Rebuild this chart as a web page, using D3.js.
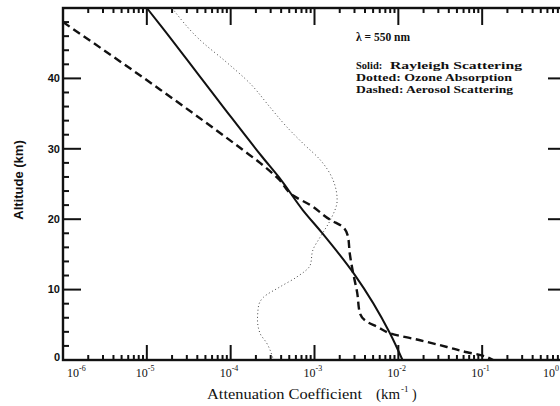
<!DOCTYPE html>
<html>
<head>
<meta charset="utf-8">
<script src="https://cdn.jsdelivr.net/npm/d3@7"></script>
<style>
  html, body { margin: 0; padding: 0; background: #fff; }
  svg { display: block; }
</style>
</head>
<body>
<svg id="chart" width="560" height="406"></svg>
<script>
// Extinction profiles at 550 nm: [altitude km, log10 of coefficient km^-1]
const rayleigh = [
  [50, -5.00], [47.3, -4.82], [40, -4.35], [35.5, -4.06], [28.8, -3.62],
  [25.6, -3.40], [21.3, -3.14], [18.2, -2.92], [12.1, -2.52], [3.8, -2.10], [0, -1.95]
];
const ozone = [
  [50, -4.70], [45.5, -4.37], [42.2, -4.04], [39.3, -3.77], [35.9, -3.53],
  [33.1, -3.33], [30.8, -3.14], [28.4, -2.93], [25.6, -2.78], [22.7, -2.73],
  [19.9, -2.81], [17.5, -2.93], [15.6, -3.02], [13.5, -3.05], [11.8, -3.21],
  [10.4, -3.41], [8.9, -3.61], [7.5, -3.67], [5.7, -3.68], [3.8, -3.65],
  [2.4, -3.57], [0, -3.49]
];
const aerosol = [
  [48.0, -6.0], [38.4, -4.84], [29.8, -3.85], [28.0, -3.65], [25.6, -3.42],
  [23.4, -3.26], [22.0, -3.05], [19.9, -2.81], [18.9, -2.66], [17.5, -2.60],
  [15.2, -2.58], [12.4, -2.54], [9.5, -2.49], [6.7, -2.46], [5.4, -2.37],
  [4.7, -2.25], [3.8, -2.10], [2.8, -1.74], [1.85, -1.42], [1.1, -1.18],
  [0.7, -1.02], [0, -0.87]
];

const decades = [-6, -5, -4, -3, -2, -1, 0];
const altTicks = [0, 10, 20, 30, 40];
const legendKeys = ["Solid:", "Dotted:", "Dashed:"];
const legendNames = ["Rayleigh Scattering", "Ozone Absorption", "Aerosol Scattering"];
const wavelengthLabel = "\u03bb = 550 nm";
const xTitle = "Attenuation Coefficient";
const xUnit = "(km";
const yTitle = "Altitude (km)";

const svg = d3.select("#chart");
const plotLeft = 63, plotRight = 566, plotTop = 8, plotBottom = 360;

const x = d3.scaleLog().domain([1e-6, 1]).range([plotLeft, plotRight]);
const y = d3.scaleLinear().domain([0, 50]).range([plotBottom, plotTop]);

const majorX = decades.map(d => Math.pow(10, d));
const minorX = [];
decades.slice(0, -1).forEach(d => {
  for (let k = 2; k <= 9; k++) minorX.push(k * Math.pow(10, d));
});
const minorY = d3.range(0, 51, 2).filter(v => v % 10 !== 0);
const majorY = d3.range(0, 51, 10);

// frame
svg.append("rect")
  .attr("x", plotLeft).attr("y", plotTop)
  .attr("width", plotRight - plotLeft).attr("height", plotBottom - plotTop)
  .attr("fill", "none").attr("stroke", "#111").attr("stroke-width", 2.4);

// inward ticks on all four sides
function drawTicks(cls, vals, x1, x2, y1, y2) {
  svg.append("g").attr("class", cls).selectAll("line").data(vals).join("line")
    .attr("x1", x1).attr("x2", x2).attr("y1", y1).attr("y2", y2)
    .attr("stroke", "#111").attr("stroke-width", 2);
}
drawTicks("xminor-b", minorX, d => x(d), d => x(d), plotBottom, plotBottom - 5);
drawTicks("xminor-t", minorX, d => x(d), d => x(d), plotTop, plotTop + 5);
drawTicks("xmajor-b", majorX, d => x(d), d => x(d), plotBottom, plotBottom - 15);
drawTicks("xmajor-t", majorX, d => x(d), d => x(d), plotTop, plotTop + 17);
drawTicks("yminor-l", minorY, plotLeft, plotLeft + 6, d => y(d), d => y(d));
drawTicks("yminor-r", minorY, plotRight, plotRight - 6, d => y(d), d => y(d));
drawTicks("ymajor-l", majorY, plotLeft, plotLeft + 18, d => y(d), d => y(d));
drawTicks("ymajor-r", majorY, plotRight, plotRight - 18, d => y(d), d => y(d));

// x tick labels as powers of ten
const xl = svg.append("g").attr("font-family", "Liberation Serif, serif").attr("fill", "#111");
decades.forEach(d => {
  const t = xl.append("text")
    .attr("x", Math.min(Math.max(x(Math.pow(10, d)) - 11, 67), 543))
    .attr("y", 377)
    .attr("font-size", 12);
  t.append("tspan").text("10");
  t.append("tspan").attr("font-size", 8).attr("dy", -6).text(d === 0 ? "0" : "-" + Math.abs(d));
});

// y tick labels
svg.append("g").selectAll("text").data(altTicks).join("text")
  .attr("x", 60).attr("y", d => y(d) - (d === 0 ? 3 : 0))
  .attr("dy", "0.35em")
  .attr("text-anchor", "end")
  .attr("font-family", "Liberation Sans, sans-serif")
  .attr("font-weight", "bold")
  .attr("font-size", 11)
  .attr("fill", "#111")
  .text(d => d);

// profiles
const line = d3.line()
  .x(d => x(Math.pow(10, d[1])))
  .y(d => y(d[0]))
  .curve(d3.curveMonotoneY);

svg.append("path").datum(ozone).attr("d", line)
  .attr("fill", "none").attr("stroke", "#444").attr("stroke-width", 1)
  .attr("stroke-dasharray", "1,2.6");
svg.append("path").datum(rayleigh).attr("d", line)
  .attr("fill", "none").attr("stroke", "#111").attr("stroke-width", 2);
svg.append("path").datum(aerosol).attr("d", line)
  .attr("fill", "none").attr("stroke", "#111").attr("stroke-width", 2.4)
  .attr("stroke-dasharray", "8,4.5");

// annotation block
const note = svg.append("g")
  .attr("font-family", "Liberation Serif, serif")
  .attr("font-weight", "bold")
  .attr("font-size", 10.5)
  .attr("fill", "#111");
note.append("text").attr("x", 356).attr("y", 41).attr("font-size", 11.5).text(wavelengthLabel);
// first entry: key and name in separate columns
note.append("text").attr("x", 356).attr("y", 69).text(legendKeys[0]);
note.append("text").attr("x", 390).attr("y", 69)
  .attr("textLength", 132).attr("lengthAdjust", "spacingAndGlyphs")
  .text(legendNames[0]);
// remaining entries run on in one line each
const lineEnds = [512, 513];
[1, 2].forEach((i, j) => {
  note.append("text").attr("x", 356).attr("y", 69 + i * 12)
    .attr("textLength", lineEnds[j] - 356).attr("lengthAdjust", "spacingAndGlyphs")
    .text(legendKeys[i] + " " + legendNames[i]);
});

// axis titles
const titleG = svg.append("g")
  .attr("font-family", "Liberation Serif, serif")
  .attr("font-size", 14)
  .attr("fill", "#111");
titleG.append("text").attr("x", 207).attr("y", 399)
  .attr("textLength", 155).attr("lengthAdjust", "spacingAndGlyphs")
  .text(xTitle);
titleG.append("text").attr("x", 376).attr("y", 399)
  .attr("textLength", 24).attr("lengthAdjust", "spacingAndGlyphs")
  .text(xUnit);
titleG.append("text").attr("x", 401).attr("y", 392).attr("font-size", 9).text("-1");
titleG.append("text").attr("x", 412).attr("y", 399).text(")");

svg.append("text")
  .attr("transform", "translate(23,180) rotate(-90)")
  .attr("text-anchor", "middle")
  .attr("font-family", "Liberation Sans, sans-serif")
  .attr("font-weight", "bold")
  .attr("font-size", 13)
  .attr("fill", "#111")
  .text(yTitle);
</script>
</body>
</html>
